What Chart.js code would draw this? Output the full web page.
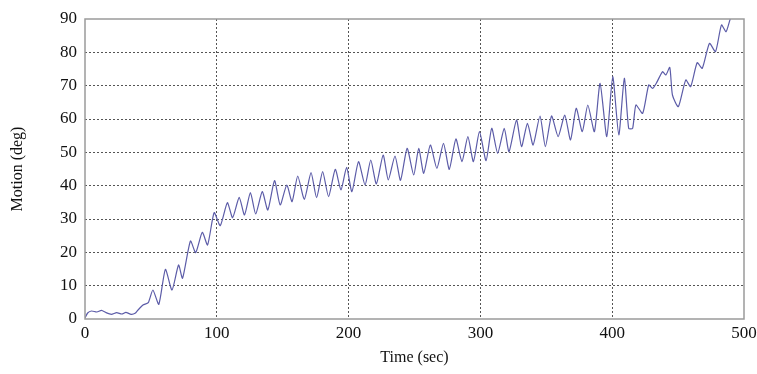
<!DOCTYPE html>
<html>
<head>
<meta charset="utf-8">
<script src="https://cdn.jsdelivr.net/npm/chart.js@4/dist/chart.umd.min.js"></script>
<style>
  html, body { margin: 0; padding: 0; background: #fff; }
  #wrap { width: 757px; height: 374px; position: relative; }
</style>
</head>
<body>
<div id="wrap"><canvas id="motionCanvas"></canvas></div>
<script>
// values (peaks and troughs of the trace)
const timeSec = [
  0, 2, 5, 9, 12.5, 16, 20, 24, 28, 31, 35, 38, 40, 44, 48, 51.5, 56, 61, 66, 71, 74,
  80, 84, 89, 93, 98, 102.6, 108, 112, 117, 121, 125.5, 129.5,
  134.5, 138.7, 143.8, 148.1, 153.1, 157.1, 161.4, 166.4, 171.5, 175.7, 180.3, 184.8,
  189.9, 194.2, 198.5, 202.5, 207.5, 212.5, 216.8, 221.1, 226.2, 230.1, 235.2, 239.4,
  244.4, 249.4, 253.2, 257, 262, 267, 272, 276.4, 281.4, 286, 290.5, 294.7, 299.3,
  304.3, 308.6, 313.1, 318.1, 321.7, 327.4, 331.2, 335.7, 340, 345.2, 349.3, 354, 359,
  364, 368.4, 372.7, 377.3, 381.5, 386.5, 390.8, 395.9, 400.4, 405, 409.2, 412.5, 415.5,
  418, 423.1, 427.7, 430.7, 433.7, 438.2, 440.7, 443.7, 445.7, 450.2, 455.8, 459.5,
  464.5, 468.3, 473.8, 478.4, 482.9, 486.4, 489.7, 492
];
const motionDeg = [
  0.3, 1.8, 2.4, 2.1, 2.6, 1.9, 1.4, 1.9, 1.5, 2.0, 1.4, 1.7, 2.6, 4.2, 4.9, 8.7, 4.4, 14.9, 8.7, 16.2, 12.2,
  23.4, 19.9, 26, 22.2, 31.9, 28, 34.9, 30.4, 36.5, 31.2, 37.9, 31.5,
  38.2, 32.7, 41.5, 34.2, 40.2, 35.2, 42.9, 35.9, 43.9, 36.4, 44.2, 36.7,
  44.9, 38.7, 45.5, 38.2, 47.2, 40.2, 47.7, 40.5, 49.2, 41.7, 48.9, 41.6,
  51.2, 43.2, 51.2, 43.7, 52.2, 45.2, 52.7, 44.9, 54, 47.2, 54.7, 47.2, 56.2,
  47.5, 57.2, 49.7, 57.2, 50.2, 59.7, 51.7, 58.7, 52.2, 60.9, 51.7, 60.9, 54.7,
  61.2, 53.7, 63.2, 56.2, 64.2, 56.2, 70.7, 54.7, 72.7, 55.2, 72.2, 57.2, 57.2,
  64.2, 61.7, 70.2, 69.2, 70.9, 74.2, 73.2, 75.5, 67.2, 63.7, 71.7, 69.7,
  76.9, 75.2, 82.7, 80.2, 88.2, 86.2, 90.2, 92
];
const xTicks = [0, 100, 200, 300, 400, 500];
const yTicks = [0, 10, 20, 30, 40, 50, 60, 70, 80, 90];

const points = timeSec.map((t, i) => ({ x: t, y: motionDeg[i] }));

// solid frame round the plot area
const frame = {
  id: "frame",
  afterDraw(chart) {
    const { ctx, chartArea: a } = chart;
    ctx.save();
    ctx.strokeStyle = "#9a9a9a";
    ctx.lineWidth = 1.5;
    ctx.strokeRect(a.left, a.top, a.right - a.left, a.bottom - a.top);
    ctx.restore();
  },
};

const edgeless = (max) => (c) =>
  c.tick && (c.tick.value === 0 || c.tick.value === max) ? "rgba(0,0,0,0)" : "#555";

Chart.defaults.font.family = "'Liberation Serif', 'Times New Roman', serif";
Chart.defaults.color = "#111";

let ctx = document.getElementById("motionCanvas").getContext("2d");
new Chart(ctx, {
  type: "line",
  data: {
    datasets: [
      {
        data: points,
        borderColor: "#5c5ca8",
        borderWidth: 1.2,
        pointRadius: 0,
        fill: false,
        tension: 0.2,
      },
    ],
  },
  options: {
    animation: false,
    responsive: true,
    maintainAspectRatio: false,
    layout: { padding: { left: 0, right: 13, top: 19, bottom: 0 } },
    plugins: { legend: { display: false }, tooltip: { enabled: false } },
    scales: {
      x: {
        type: "linear",
        min: 0,
        max: 500,
        afterBuildTicks: (s) => { s.ticks = xTicks.map((v) => ({ value: v })); },
        afterFit: (s) => { s.height = 55; s.paddingLeft = 0; s.paddingRight = 0; },
        ticks: { font: { size: 17 }, padding: 4, maxRotation: 0 },
        grid: { color: edgeless(500), drawTicks: false, lineWidth: 1 },
        border: { display: false, dash: [2, 2] },
        title: {
          display: true,
          text: "Time (sec)",
          font: { size: 16 },
          padding: { top: 0, bottom: 7 },
        },
      },
      y: {
        min: 0,
        max: 90,
        afterBuildTicks: (s) => { s.ticks = yTicks.map((v) => ({ value: v })); },
        afterFit: (s) => { s.width = 85; },
        ticks: { font: { size: 17 }, padding: 8 },
        grid: { color: edgeless(90), drawTicks: false, lineWidth: 1 },
        border: { display: false, dash: [2, 2] },
        title: {
          display: true,
          text: "Motion (deg)",
          font: { size: 16 },
          padding: { top: 8, bottom: 0 },
        },
      },
    },
  },
  plugins: [frame],
});
</script>
</body>
</html>
